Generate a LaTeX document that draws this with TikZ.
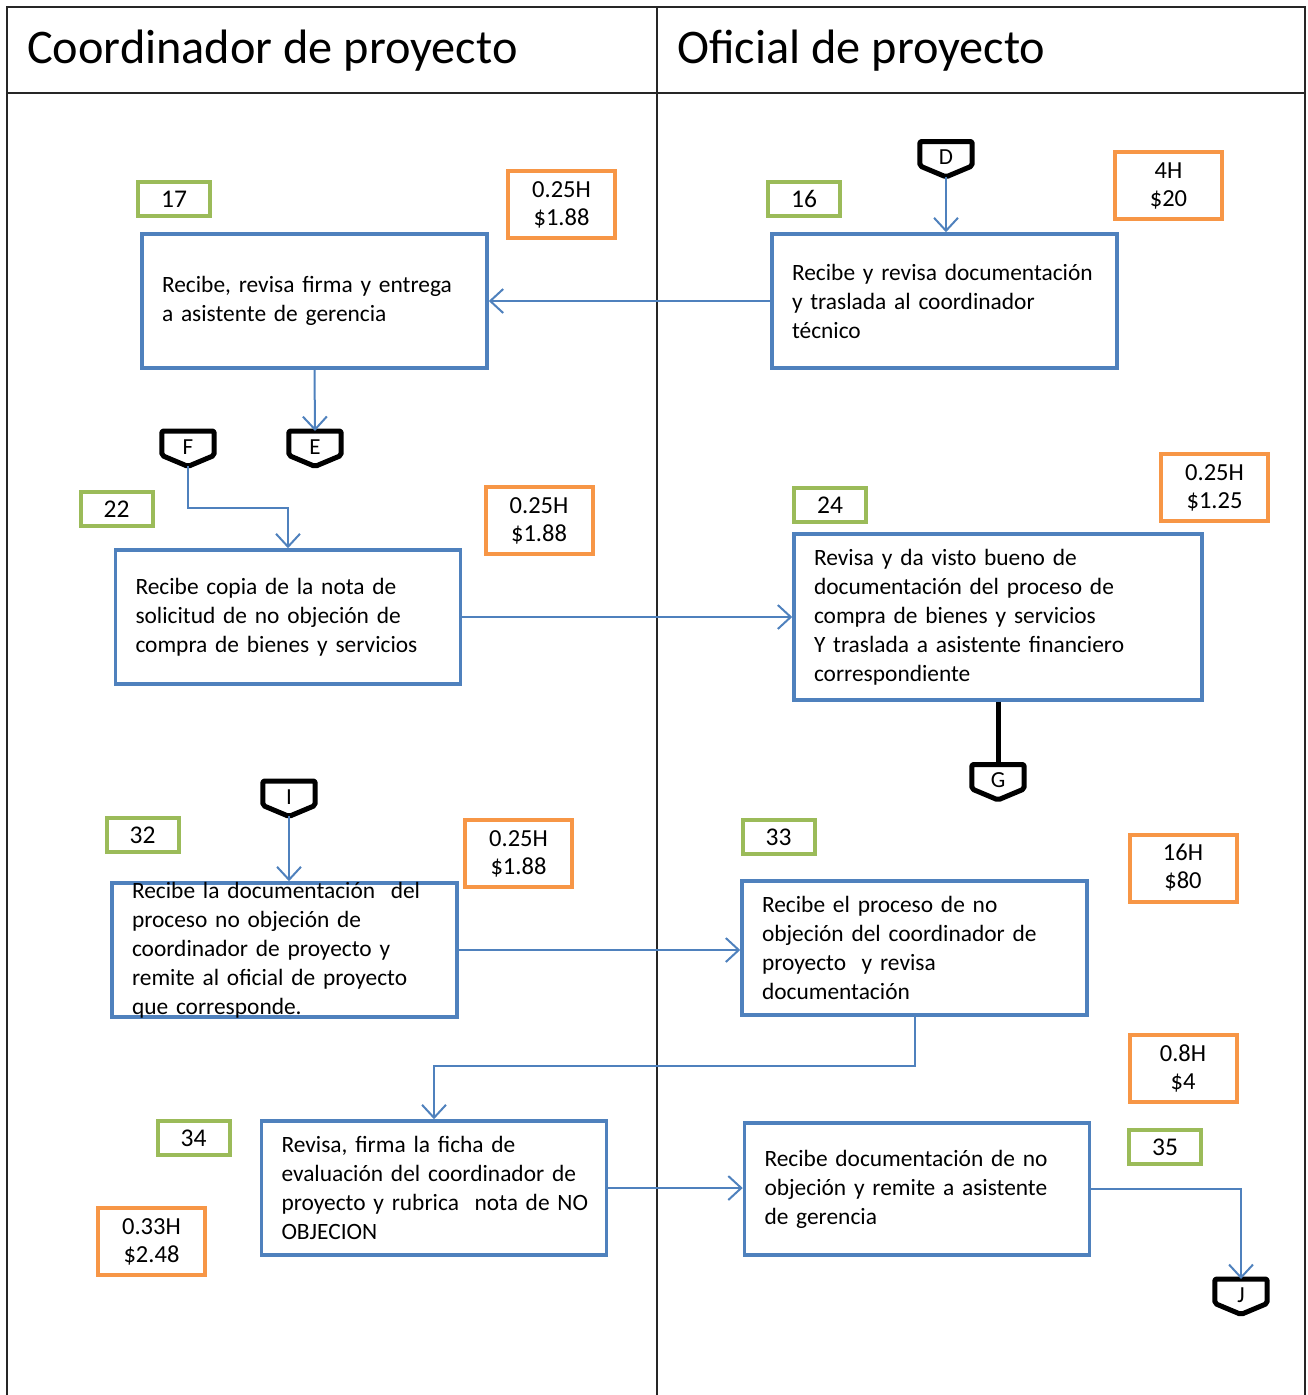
\documentclass[tikz,border=0pt]{standalone}
\usepackage{fontspec}
\setmainfont{Carlito}
\usetikzlibrary{arrows.meta}

\definecolor{procblue}{HTML}{4F81BD}
\definecolor{numgreen}{HTML}{9BBB59}
\definecolor{costorange}{HTML}{F79646}
\definecolor{laneline}{HTML}{262626}

\tikzset{
  lane/.style={draw=laneline, line width=2.5pt},
  lanetitle/.style={anchor=base west, inner sep=0pt, font=\fontsize{48.3}{54}\selectfont},
  proc/.style={draw=procblue, line width=3.5pt, minimum width=345pt, minimum height=134pt,
    text width=305pt, inner xsep=20pt, inner ysep=0pt, align=left,
    font=\fontsize{23.4}{29}\selectfont},
  stepnum/.style={draw=numgreen, line width=4pt, minimum width=72pt, minimum height=34pt,
    inner sep=0pt, font=\fontsize{25.5}{28}\selectfont},
  cost/.style={draw=costorange, line width=4pt, minimum width=107pt, minimum height=67pt,
    inner sep=0pt, align=center, font=\fontsize{24.5}{28}\selectfont},
  % off-page connector: box with a point at the bottom
  offpage/.style={inner sep=0pt, minimum width=52pt, minimum height=35pt,
    text height=11pt, text depth=0pt, anchor=north, font=\fontsize{23}{24}\selectfont,
    append after command={\pgfextra{
      \draw[line width=5pt, rounded corners=2pt, line join=round]
        (\tikzlastnode.north west) -- (\tikzlastnode.north east)
        -- ([yshift=11pt]\tikzlastnode.south east) -- (\tikzlastnode.south)
        -- ([yshift=11pt]\tikzlastnode.south west) -- cycle;}}},
  flow/.style={draw=procblue, line width=2pt, -{Straight Barb[length=13pt,width=24pt]}},
}

\begin{document}
\begin{tikzpicture}[x=1pt, y=-1pt]
\useasboundingbox (0,0) rectangle (1307,1395);

% swimlanes
\draw[lane] (7,1395) -- (7,7) -- (1305,7) -- (1305,1395);
\draw[lane] (7,93) -- (1305,93);
\draw[lane] (657,7) -- (657,1395);
\node[lanetitle] (coord) at (27,63) {Coordinador de proyecto};
\node[lanetitle] (ofic) at (677,63) {Oficial de proyecto};

% activities
\node[proc] (p17) at (314.5,301) {Recibe, revisa firma y entrega\\a asistente de gerencia};
\node[proc] (p16) at (944.5,301) {Recibe y revisa documentación\\y traslada al coordinador\\técnico};
\node[proc] (p22) at (288,617) {Recibe copia de la nota de\\solicitud de no objeción de\\compra de bienes y servicios};
\node[proc, minimum width=408pt, minimum height=166pt, text width=368pt] (p24) at (998,617)
  {Revisa y da visto bueno de\\documentación del proceso de\\compra de bienes y servicios\\Y traslada a asistente financiero\\correspondiente};
\node[proc] (p32) at (284.5,950) {};
\node[proc, draw=none, minimum height=0pt] (t32) at (p32.center)
  {\mbox{Recibe la documentación\ \ del}\\proceso no objeción de\\coordinador de proyecto y\\remite al oficial de proyecto\\que corresponde.};
\node[proc] (p33) at (914.5,948) {Recibe el proceso de no\\objeción del coordinador de\\proyecto\ \ y revisa\\documentación};
\node[proc] (p34) at (434,1188) {Revisa, firma la ficha de\\evaluación del coordinador de\\\mbox{proyecto y rubrica\ \ nota de NO}\\OBJECION};
\node[proc, minimum height=132pt] (p35) at (917,1189) {Recibe documentación de no\\objeción y remite a asistente\\de gerencia};

% step numbers
\node[stepnum] (n17) at (174,199) {17};
\node[stepnum] (n16) at (804,199) {16};
\node[stepnum] (n22) at (116.5,509) {22};
\node[stepnum] (n24) at (830,505) {24};
\node[stepnum] (n32) at (142.5,835) {32};
\node[stepnum] (n33) at (778.5,837) {33};
\node[stepnum] (n34) at (193.5,1138) {34};
\node[stepnum] (n35) at (1165,1147) {35};

% time and cost
\node[cost] (c17) at (561.5,204.5) {0.25H\\\$1.88};
\node[cost] (c16) at (1168.5,185.5) {4H\\\$20};
\node[cost] (c22) at (539,520.5) {0.25H\\\$1.88};
\node[cost] (c24) at (1214.5,487.5) {0.25H\\\$1.25};
\node[cost] (c32) at (518.5,853.5) {0.25H\\\$1.88};
\node[cost] (c33) at (1183,868) {16H\\\$80};
\node[cost] (c35) at (1183,1068.5) {0.8H\\\$4};
\node[cost] (c34) at (151.5,1241.5) {0.33H\\\$2.48};

% off-page connectors
\node[offpage] (d) at (946,141.5) {D};
\node[offpage] (f) at (188,431) {F};
\node[offpage] (e) at (315,431) {E};
\node[offpage] (g) at (998,764.5) {G};
\node[offpage] (i) at (289,781) {I};
\node[offpage] (j) at (1241,1279) {J};

% flow
\draw[flow] (d.south) -- (d.south |- p16.north);
\draw[flow] (p16.west) -- (p17.east);
\draw[flow] (p17.south) -- (e.north);
\draw[flow] (f.south) |- ([yshift=40pt]p22.north) -- (p22.north);
\draw[flow] (p22.east) -- (p24.west);
\draw[line width=5pt] (p24.south) -- (g.north);
\draw[flow] (i.south) -- (i.south |- p32.north);
\draw[flow] (p32.east) -- (p32.east -| p33.west);
\draw[flow] (p33.south) |- ([yshift=53pt]p34.north) -- (p34.north);
\draw[flow] (p34.east) -- (p34.east -| p35.west);
\draw[flow] (p35.east) -| (j.north);
\end{tikzpicture}
\end{document}
